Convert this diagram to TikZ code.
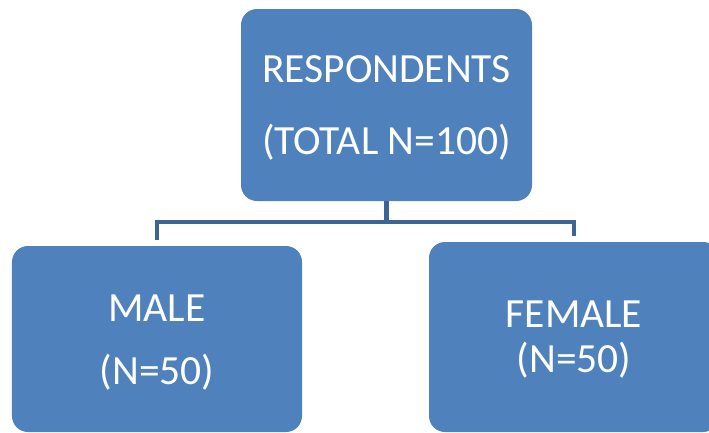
\documentclass[tikz,border=0pt]{standalone}
\usepackage{fontspec}
\setmainfont{Carlito}
\definecolor{boxblue}{HTML}{4F81BD}
\definecolor{linkblue}{HTML}{3C6494}
\newcommand{\lift}{\rule{0pt}{33bp}}
\begin{document}
\begin{tikzpicture}[x=1bp,y=-1bp,
  box/.style={rectangle, rounded corners=16bp, fill=boxblue, text=white,
    align=center, inner sep=0pt, font=\fontsize{41.5bp}{45bp}\selectfont},
  conn/.style={draw=linkblue, line width=4.5bp}]
\useasboundingbox (0,0) rectangle (709,432);
\node[box, minimum width=291bp, minimum height=192bp] (top) at (386.5,105) {\lift RESPONDENTS\\[27bp](TOTAL N=100)};
\node[box, minimum width=290bp, minimum height=186bp] (male) at (157,339) {\lift MALE\\[18bp](N=50)};
\node[box, minimum width=290bp, minimum height=190bp] (female) at (574,337) {\rule{0pt}{31bp}FEMALE\\(N=50)};
\coordinate (mid) at (386.5,222);
\draw[conn] (top.south) -- (mid);
\draw[conn, shorten <=6bp, shorten >=6bp] (male.north) |- (mid) -| (female.north);
\end{tikzpicture}
\end{document}
